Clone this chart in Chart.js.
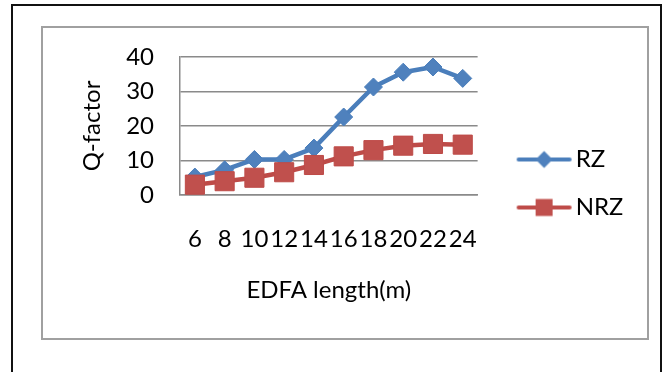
<!DOCTYPE html>
<html>
<head>
<meta charset="utf-8">
<title>Q-factor vs EDFA length</title>
<script src="https://cdn.jsdelivr.net/npm/chart.js@4/dist/chart.umd.min.js"></script>
<style>
  html, body { margin: 0; padding: 0; width: 668px; height: 372px; overflow: hidden; background: #fff; }
  #frame { position: absolute; left: 11px; top: 4px; width: 647px; height: 420px; border: 2px solid #111; }
  #box { position: absolute; left: 41px; top: 26px; width: 604px; height: 310px; border: 2px solid #a0a0a0; }
  #box canvas { display: block; }
</style>
</head>
<body>
<div id="frame"></div>
<div id="box"><canvas id="chart" width="604" height="310"></canvas></div>
<script>
// EDFA lengths (m) and measured Q-factor for the two modulation formats
const categories = ['6', '8', '10', '12', '14', '16', '18', '20', '22', '24'];
const rzValues  = [5.2, 7.3, 10.3, 10.3, 13.6, 22.6, 31.3, 35.6, 37.1, 33.8];
const nrzValues = [3.0, 4.0, 5.0, 6.6, 8.7, 11.2, 13.0, 14.3, 14.8, 14.6];
const yTickValues = [0, 10, 20, 30, 40];
const seriesNames = ['RZ', 'NRZ'];

const FONT = 'Lato, Carlito, Calibri, "Open Sans", sans-serif';
const FONT_SIZE = 24;
const GRID = '#8a8a8a';
const BLUE_LINE = '#4A7EBB', BLUE_FILL = '#4F81BD';
const RED_LINE = '#BE4B48', RED_FILL = '#C0504D';

// Legend symbol: a short line segment with the series marker on it
function legendIcon(lineColor, fillColor, shape) {
  const cv = document.createElement('canvas');
  cv.width = 82; cv.height = 24;
  const g = cv.getContext('2d');
  g.strokeStyle = lineColor;
  g.lineWidth = 4;
  g.lineCap = 'round';
  g.beginPath(); g.moveTo(27, 12); g.lineTo(78, 12); g.stroke();
  const cx = 52.5, cy = 12, h = 8.5;
  g.fillStyle = fillColor;
  g.beginPath();
  if (shape === 'diamond') {
    g.moveTo(cx, cy - h); g.lineTo(cx + h, cy); g.lineTo(cx, cy + h); g.lineTo(cx - h, cy); g.closePath();
  } else {
    g.rect(cx - h, cy - h, 2 * h, 2 * h);
  }
  g.fill();
  return cv;
}
const icons = [legendIcon(BLUE_LINE, BLUE_FILL, 'diamond'), legendIcon(RED_LINE, RED_FILL, 'square')];

new Chart(document.getElementById('chart'), {
  type: 'line',
  data: {
    labels: categories,
    datasets: [
      {
        label: seriesNames[0],
        data: rzValues,
        borderColor: BLUE_LINE,
        backgroundColor: BLUE_FILL,
        pointBackgroundColor: BLUE_FILL,
        pointBorderColor: BLUE_LINE,
        pointStyle: 'rectRot',
        pointRadius: 9,
        pointBorderWidth: 1,
        borderWidth: 4.5,
        borderCapStyle: 'round',
        borderJoinStyle: 'round',
        tension: 0,
        fill: false,
        order: 1
      },
      {
        label: seriesNames[1],
        data: nrzValues,
        borderColor: RED_LINE,
        backgroundColor: RED_FILL,
        pointBackgroundColor: RED_FILL,
        pointBorderColor: RED_LINE,
        pointStyle: 'rect',
        pointRadius: 13.5,
        pointBorderWidth: 1,
        borderWidth: 4.5,
        borderCapStyle: 'round',
        borderJoinStyle: 'round',
        tension: 0,
        fill: false,
        order: 0
      }
    ]
  },
  options: {
    responsive: false,
    animation: false,
    devicePixelRatio: 1,
    layout: { padding: { left: 0, top: 29, right: 24.5, bottom: 28 } },
    plugins: {
      tooltip: { enabled: false },
      legend: {
        position: 'right',
        align: 'center',
        labels: {
          usePointStyle: true,
          pointStyleWidth: 62,
          padding: 24,
          color: '#000',
          font: { family: FONT, size: FONT_SIZE },
          generateLabels: (chart) => chart.data.datasets.map((ds, i) => ({
            text: ds.label,
            pointStyle: icons[i],
            fillStyle: ds.backgroundColor,
            strokeStyle: ds.borderColor,
            lineWidth: 0,
            hidden: false,
            datasetIndex: i,
            fontColor: '#000'
          }))
        }
      }
    },
    scales: {
      x: {
        type: 'category',
        offset: true,
        grid: { display: true, drawOnChartArea: false, drawTicks: true, tickLength: 30, tickColor: 'rgba(0,0,0,0)' },
        border: { display: true, color: GRID, width: 1.5 },
        ticks: {
          autoSkip: false, maxRotation: 0, minRotation: 0,
          padding: 0, color: '#000',
          font: { family: FONT, size: FONT_SIZE }
        },
        title: {
          display: true, text: 'EDFA length(m)', color: '#000',
          font: { family: FONT, size: FONT_SIZE },
          padding: { top: 0, bottom: 5 }
        },
        afterFit: (s) => { s.height = 115; }
      },
      y: {
        min: 0, max: 40,
        afterBuildTicks: (s) => { s.ticks = yTickValues.map(v => ({ value: v })); },
        grid: { color: GRID, lineWidth: 1.5, drawTicks: true, tickLength: 26, tickColor: 'rgba(0,0,0,0)' },
        border: { display: true, color: GRID, width: 1.5 },
        ticks: {
          padding: 0, color: '#000',
          font: { family: FONT, size: FONT_SIZE }
        },
        title: {
          display: true, text: 'Q-factor', color: '#000',
          font: { family: FONT, size: FONT_SIZE },
          padding: { top: 34.5, bottom: 0 }
        },
        afterFit: (s) => { s.width = 137; }
      }
    }
  }
});
</script>
</body>
</html>
